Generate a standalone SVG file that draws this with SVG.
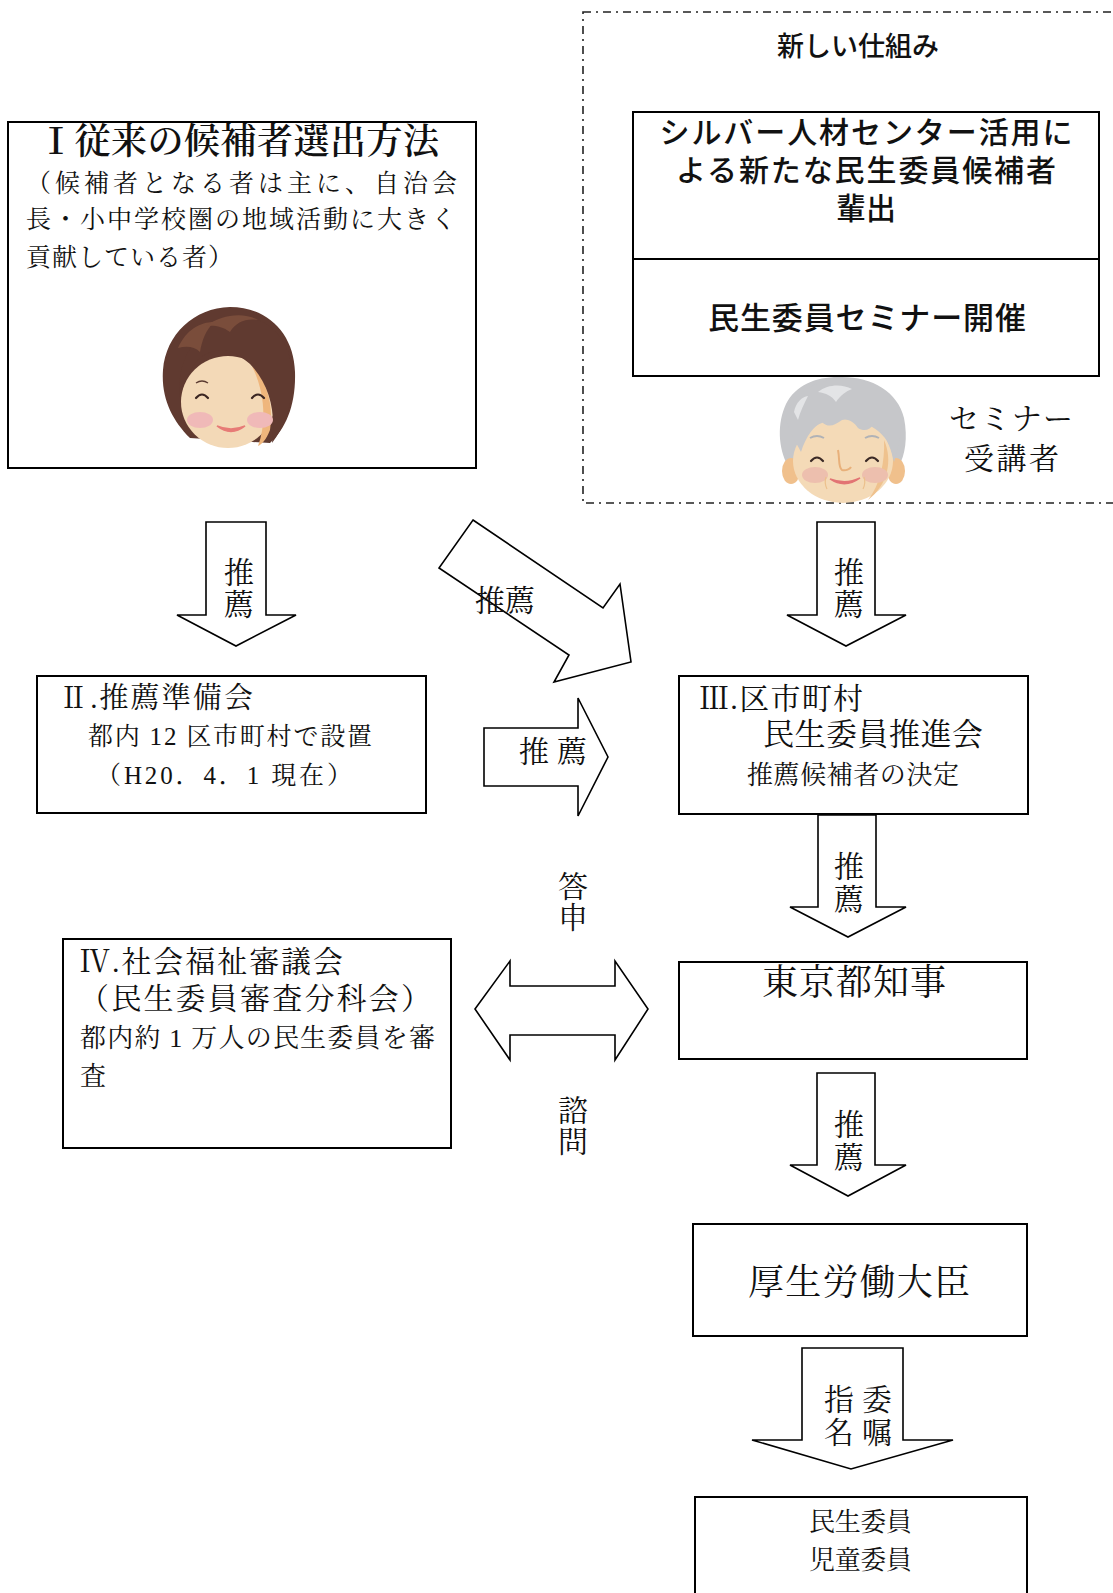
<svg xmlns="http://www.w3.org/2000/svg" width="1113" height="1593" viewBox="0 0 1113 1593">
  <style>
    .box { fill: #ffffff; stroke: #000000; stroke-width: 2; }
    .arrow { fill: #ffffff; stroke: #000000; stroke-width: 1.6; stroke-linejoin: miter; }
    .frame { fill: none; stroke: #222222; stroke-width: 1.6; stroke-dasharray: 8 5 2 5; }
    .m { font-family: "Liberation Serif", "Noto Serif CJK JP", "Noto Sans CJK JP", serif; fill: #111111; }
    .g { font-family: "Noto Sans CJK JP", "Liberation Sans", sans-serif; font-weight: 500; fill: #111111; }
    .mid { text-anchor: middle; }
    .lbl { font-size: 30px; }
  </style>

  <!-- new scheme frame (dash-dot border running off the right edge) -->
  <g id="new-scheme">
    <rect class="frame" x="583" y="12" width="560" height="491"/>
    <text class="g mid" x="858" y="56" font-size="27">新しい仕組み</text>
  </g>

  <!-- silver centre / seminar box -->
  <g id="silver-center">
    <rect class="box" x="633" y="112" width="466" height="264"/>
    <line x1="633" y1="259" x2="1099" y2="259" stroke="#000" stroke-width="2"/>
    <text class="g mid" x="866" y="143" font-size="30" textLength="413">シルバー人材センター活用に</text>
    <text class="g mid" x="866" y="181" font-size="30" textLength="380">よる新たな民生委員候補者</text>
    <text class="g mid" x="866" y="219" font-size="30">輩出</text>
    <text class="g mid" x="867" y="329" font-size="31" textLength="318">民生委員セミナー開催</text>
  </g>

  <!-- seminar participant -->
  <g id="seminar-participant">
    <!-- hair back -->
    <path d="M788,466 C778,448 777,423 786,404 C796,384 818,376 842,377 C872,377 898,392 904,418 C908,438 905,455 899,466 Z" fill="#c6c7ca"/>
    <!-- ears -->
    <ellipse cx="791" cy="471" rx="9" ry="13" fill="#f0c08c"/>
    <ellipse cx="896" cy="471" rx="9" ry="13" fill="#f0c08c"/>
    <!-- face -->
    <ellipse cx="843" cy="461" rx="50" ry="42" fill="#f4dab7"/>
    <path d="M884,440 C893,460 888,485 868,500 C880,485 885,462 884,440 Z" fill="#efc28e"/>
    <!-- bangs -->
    <path d="M786,420 C790,396 812,380 842,379 C875,379 900,396 902,424 C900,440 897,452 894,462 C890,444 884,432 874,424 C870,430 864,432 858,428 C854,422 848,418 842,420 C834,426 828,428 822,422 C814,426 806,436 801,452 C796,442 789,432 786,420 Z" fill="#c6c7ca"/>
    <path d="M818,392 C828,384 842,384 852,389 C846,391 840,396 836,402 C832,396 826,393 818,392 Z" fill="#e3e4e6"/>
    <path d="M794,412 C796,402 802,397 808,396 C804,404 800,412 798,420 Z" fill="#e3e4e6"/>
    <!-- brows -->
    <path d="M810,438 Q817,434 824,438" fill="none" stroke="#b0b2b6" stroke-width="2"/>
    <path d="M865,438 Q872,434 879,438" fill="none" stroke="#b0b2b6" stroke-width="2"/>
    <!-- eyes -->
    <path d="M811,461 Q817,454 823,461" fill="none" stroke="#3b2a26" stroke-width="2.2" stroke-linecap="round"/>
    <path d="M866,461 Q872,454 878,461" fill="none" stroke="#3b2a26" stroke-width="2.2" stroke-linecap="round"/>
    <!-- blush -->
    <ellipse cx="815" cy="475" rx="13" ry="8" fill="#edbfae"/>
    <ellipse cx="875" cy="475" rx="13" ry="8" fill="#edbfae"/>
    <!-- nose -->
    <path d="M838,450 C840,460 838,467 842,470 C846,471 850,469 851,467" fill="none" stroke="#e8b07a" stroke-width="2"/>
    <!-- mouth -->
    <path d="M830,479 Q845,489 860,478 Q846,485 830,479 Z" fill="#e27474" stroke="#e27474" stroke-width="1.5"/>
    <path d="M826,477 Q824,483 827,489" fill="none" stroke="#ecc08c" stroke-width="1.2"/>
    <path d="M864,477 Q866,483 863,489" fill="none" stroke="#ecc08c" stroke-width="1.2"/>
  </g>
  <g id="participant-label">
    <text class="m" x="949" y="429" font-size="30" textLength="124">セミナー</text>
    <text class="m" x="964" y="469" font-size="30" textLength="95">受講者</text>
  </g>

  <!-- I: conventional selection -->
  <g id="box-1">
    <rect class="box" x="8" y="122" width="468" height="346"/>
    <text class="m" x="38" y="154" font-size="36" font-weight="600" textLength="401">Ⅰ従来の候補者選出方法</text>
    <text class="m" x="26" y="192" font-size="25" textLength="431">（候補者となる者は主に、自治会</text>
    <text class="m" x="26" y="228" font-size="25" textLength="430">長・小中学校圏の地域活動に大きく</text>
    <text class="m" x="26" y="266" font-size="25" textLength="207">貢献している者）</text>
    <!-- candidate -->
    <g id="candidate">
      <path d="M190,438 C172,420 161,398 163,370 C166,334 194,308 230,307 C268,307 294,334 295,372 C296,405 286,428 270,443 Z" fill="#603a30"/>
      <ellipse cx="228" cy="402" rx="47" ry="46" fill="#f3d9b7"/>
      <path d="M252,366 C266,380 274,404 270,430 C266,440 262,444 258,446 C266,425 266,395 252,366 Z" fill="#efb67c"/>
      <path d="M180,398 C176,368 190,330 230,318 C262,312 290,334 292,372 C294,400 286,425 272,443 C276,412 270,385 250,364 C240,356 232,350 224,350 C210,350 198,356 192,368 C186,378 182,388 180,398 Z" fill="#603a30"/>
      <path d="M178,348 C186,330 200,322 214,322 C206,330 202,340 200,352 C194,346 186,346 178,348 Z" fill="#7a4d3b"/>
      <path d="M206,326 C222,314 244,312 258,320 C246,318 236,322 230,332 C222,326 214,325 206,326 Z" fill="#7a4d3b"/>
      <!-- brow -->
      <path d="M196,383 Q202,379 208,383" fill="none" stroke="#5a3a30" stroke-width="1.3"/>
      <!-- eyes -->
      <path d="M196,398 Q202,391 208,398" fill="none" stroke="#3b2622" stroke-width="2.2" stroke-linecap="round"/>
      <path d="M252,398 Q258,391 264,398" fill="none" stroke="#3b2622" stroke-width="2.2" stroke-linecap="round"/>
      <!-- blush -->
      <ellipse cx="200" cy="420" rx="13" ry="8" fill="#f0b9b8"/>
      <ellipse cx="260" cy="420" rx="13" ry="8" fill="#f0b9b8"/>
      <!-- mouth -->
      <path d="M217,426 Q231,437 245,426 Q231,432 217,426 Z" fill="#e77b76" stroke="#e77b76" stroke-width="1.5"/>
    </g>
  </g>

  <!-- II: recommendation preparation council -->
  <g id="box-2">
    <rect class="box" x="37" y="676" width="389" height="137"/>
    <text class="m" x="59" y="708" font-size="29" textLength="194">Ⅱ.推薦準備会</text>
    <text class="m" x="88" y="745" font-size="25" textLength="284">都内 12 区市町村で設置</text>
    <text class="m" x="96" y="784" font-size="25" textLength="256">（H20．4．1 現在）</text>
  </g>

  <!-- III: municipal promotion council -->
  <g id="box-3">
    <rect class="box" x="679" y="676" width="349" height="138"/>
    <text class="m" x="699" y="709" font-size="30" textLength="164">Ⅲ.区市町村</text>
    <text class="m" x="763" y="745" font-size="31" textLength="220">民生委員推進会</text>
    <text class="m" x="747" y="784" font-size="26" textLength="212">推薦候補者の決定</text>
  </g>

  <!-- IV: social welfare council -->
  <g id="box-4">
    <rect class="box" x="63" y="939" width="388" height="209"/>
    <text class="m" x="80" y="972" font-size="30" textLength="263">Ⅳ.社会福祉審議会</text>
    <text class="m" x="79" y="1009" font-size="30" textLength="352">（民生委員審査分科会）</text>
    <text class="m" x="80" y="1047" font-size="26" textLength="355">都内約 1 万人の民生委員を審</text>
    <text class="m" x="80" y="1085" font-size="26">査</text>
  </g>

  <!-- Tokyo governor -->
  <g id="box-governor">
    <rect class="box" x="679" y="962" width="348" height="97"/>
    <text class="m" x="762" y="995" font-size="36" textLength="184">東京都知事</text>
  </g>

  <!-- Minister of Health, Labour and Welfare -->
  <g id="box-minister">
    <rect class="box" x="693" y="1224" width="334" height="112"/>
    <text class="m" x="748" y="1295" font-size="36" textLength="222">厚生労働大臣</text>
  </g>

  <!-- commissioned members -->
  <g id="box-members">
    <rect class="box" x="695" y="1497" width="332" height="130"/>
    <text class="m" x="809" y="1531" font-size="26" textLength="103">民生委員</text>
    <text class="m" x="809" y="1569" font-size="26" textLength="103">児童委員</text>
  </g>

  <!-- block arrows and their labels -->
  <g id="connectors">
    <polygon class="arrow" points="206,522 266,522 266,615 296,615 236,646 177,615 206,615"/>
    <text class="m mid lbl" x="239" y="583">推</text>
    <text class="m mid lbl" x="239" y="615">薦</text>

    <polygon class="arrow" points="473,520 603,608 620,584 631,662 554,682 569,655 439,568"/>
    <text class="m lbl" x="475" y="611" textLength="60">推薦</text>

    <polygon class="arrow" points="484,728 578,728 578,698 608,757 578,816 578,786 484,786"/>
    <text class="m lbl" x="519" y="762" textLength="68">推 薦</text>

    <polygon class="arrow" points="817,522 875,522 875,615 906,615 846,646 787,615 817,615"/>
    <text class="m mid lbl" x="849" y="583">推</text>
    <text class="m mid lbl" x="849" y="615">薦</text>

    <polygon class="arrow" points="818,815 876,815 876,907 906,907 848,937 790,907 818,907"/>
    <text class="m mid lbl" x="849" y="877">推</text>
    <text class="m mid lbl" x="849" y="910">薦</text>

    <polygon class="arrow" points="475,1009 510,961 510,986 615,986 615,961 648,1009 615,1060 615,1035 510,1035 510,1060"/>
    <text class="m mid lbl" x="573" y="897">答</text>
    <text class="m mid lbl" x="573" y="928">申</text>
    <text class="m mid lbl" x="573" y="1121">諮</text>
    <text class="m mid lbl" x="573" y="1152">問</text>

    <polygon class="arrow" points="817,1073 875,1073 875,1165 906,1165 848,1196 790,1165 817,1165"/>
    <text class="m mid lbl" x="849" y="1135">推</text>
    <text class="m mid lbl" x="849" y="1168">薦</text>

    <polygon class="arrow" points="802,1348 903,1348 903,1440 953,1440 851,1469 752,1440 802,1440"/>
    <text class="m mid lbl" x="839" y="1410">指</text>
    <text class="m mid lbl" x="877" y="1410">委</text>
    <text class="m mid lbl" x="839" y="1443">名</text>
    <text class="m mid lbl" x="877" y="1443">嘱</text>
  </g>
</svg>
